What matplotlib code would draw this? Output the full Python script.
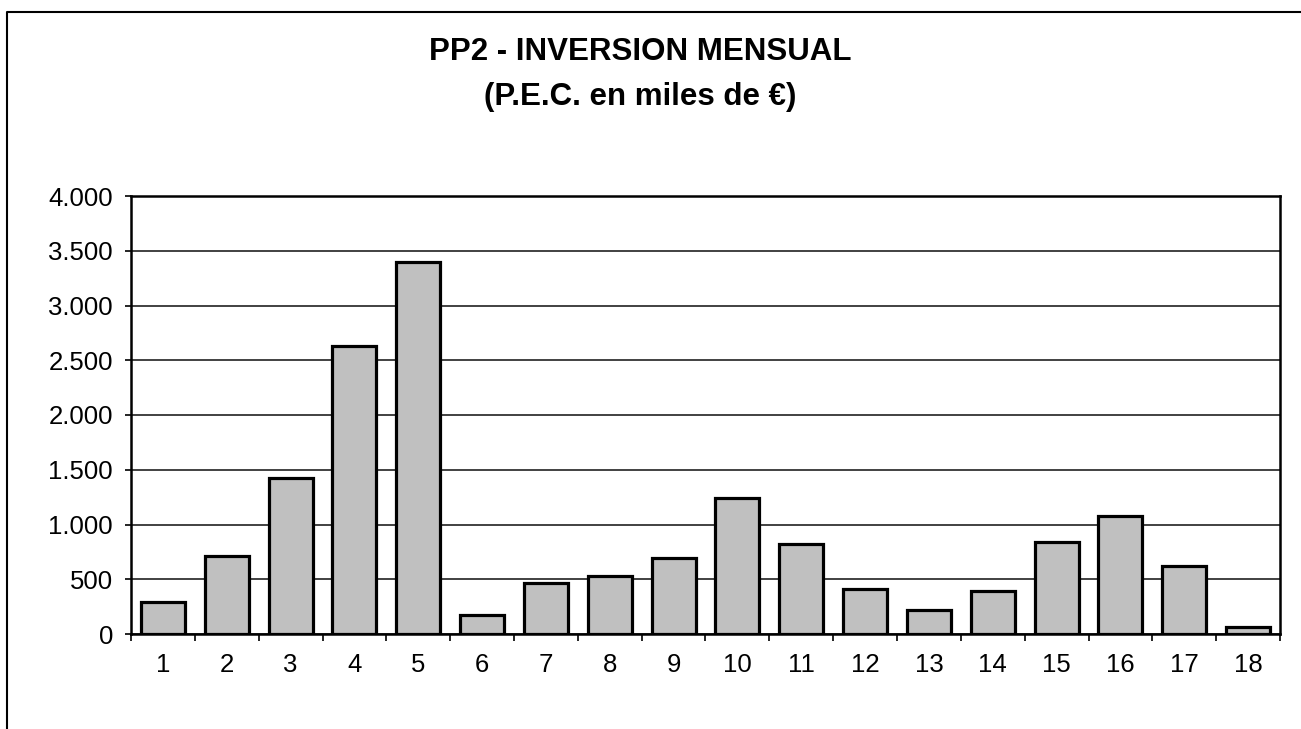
import matplotlib
matplotlib.use("Agg")
import matplotlib.pyplot as plt
from matplotlib.lines import Line2D
from matplotlib.ticker import FuncFormatter, FixedLocator

plt.rcParams['font.family'] = ['Liberation Sans', 'DejaVu Sans']

# Monthly investment (thousands of EUR)
months = [str(m) for m in range(1, 19)]
investment = [288, 714, 1429, 2631, 3400, 171, 463, 530, 698,
              1238, 826, 414, 219, 390, 839, 1077, 619, 61]
y_ticks = [0, 500, 1000, 1500, 2000, 2500, 3000, 3500, 4000]

title = "PP2 - INVERSION MENSUAL"
subtitle = "(P.E.C. en miles de €)"

W, H = 1301, 729
fig = plt.figure(figsize=(W / 100, H / 100), dpi=100)
fig.patch.set_facecolor("white")

ax = fig.add_axes([131 / W, 1 - 634 / H, (1280 - 131) / W, (634 - 196) / H])

x = list(range(len(months)))
ax.bar(x, investment, width=0.69, color="#c0c0c0", edgecolor="black",
       linewidth=2.3, zorder=3)

ax.set_xlim(-0.5, len(months) - 0.5)
ax.set_ylim(0, 4000)

ax.set_yticks(y_ticks)
ax.yaxis.set_major_formatter(FuncFormatter(lambda v, p: f"{int(v):,}".replace(",", ".")))
ax.tick_params(axis="y", direction="out", length=4, width=1.2, pad=9,
               labelsize=18.5, colors="black")

ax.set_xticks(x)
ax.set_xticklabels(months)
ax.tick_params(axis="x", which="major", length=0, pad=14, labelsize=18.5)
ax.xaxis.set_minor_locator(FixedLocator([i - 0.5 for i in range(len(months) + 1)]))
ax.tick_params(axis="x", which="minor", direction="out", length=5, width=1.2)

ax.yaxis.grid(True, color="#333333", linewidth=1.3, zorder=0)
ax.set_axisbelow(True)

for s in ax.spines.values():
    s.set_color("black")
    s.set_linewidth(1.8)

fig.text(640 / W, 1 - 52 / H, title, ha="center", va="center",
         fontsize=22.5, fontweight="bold")
fig.text(640 / W, 1 - 97 / H, subtitle, ha="center", va="center",
         fontsize=22.5, fontweight="bold")

# outer chart frame (top and left edges)
fig.add_artist(Line2D([7 / W, 7 / W, 1.0], [0.0, 1 - 12 / H, 1 - 12 / H],
                      transform=fig.transFigure, color="black", linewidth=1.5))

fig.savefig("out.png", dpi=100, facecolor="white")
